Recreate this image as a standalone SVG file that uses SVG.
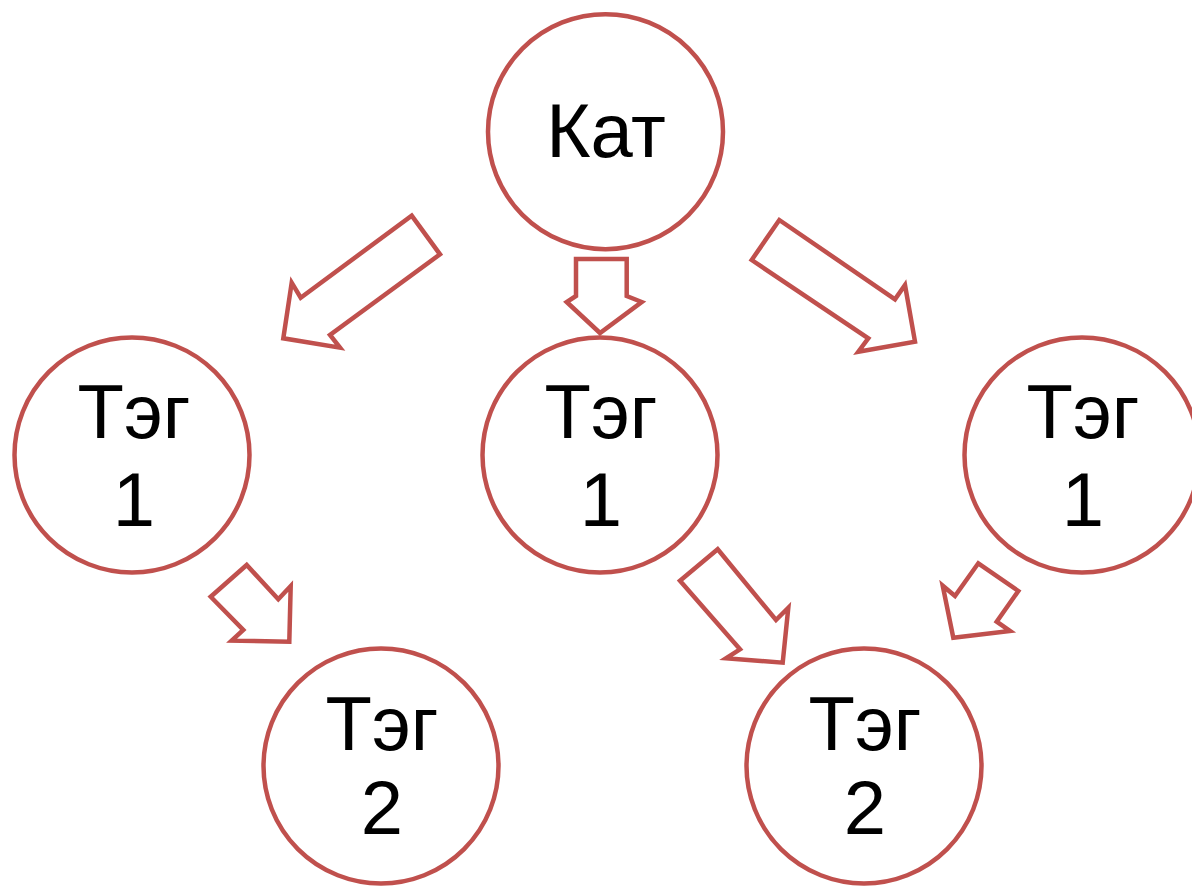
<svg xmlns="http://www.w3.org/2000/svg" width="1192" height="886" viewBox="0 0 1192 886">
<style>
.n{fill:#fff;stroke:#c0504d;stroke-width:4.5}
.a{fill:#fff;stroke:#c0504d;stroke-width:4.5;stroke-linejoin:miter}
.t{font-family:"Liberation Sans",Arial,sans-serif;font-size:76px;fill:#000;text-anchor:middle}
</style>
<rect width="1192" height="886" fill="#fff"/>
<g id="connectors">
<polygon class="a" points="411.7,215.7 440,254.3 330,335 340,347.7 283.3,338.3 291.7,282.7 300.7,297.7"/>
<polygon class="a" points="576,259 626.7,259 626.7,296 641.7,302 600,333 566.7,302 576,296"/>
<polygon class="a" points="751.7,260 779.3,220 895,299.3 905,285 915,341.7 858.3,351.7 868.3,338.3"/>
<polygon class="a" points="210.7,596.7 246.7,565 278.3,599.3 290.7,586 289.3,641.7 231.7,640.7 243.3,630"/>
<polygon class="a" points="680,580.7 717.7,549.3 776,620 788.3,607.7 782.7,662.7 726,658.3 740,649.3"/>
<polygon class="a" points="1018.3,591 978.3,563.3 955,596 942.7,585.7 953.3,637.7 1010,631 996.7,621.7"/>
</g>
<g id="kat">
<circle class="n" cx="605.5" cy="131.7" r="117.5"/>
<text class="t" x="606" y="157">Кат</text>
</g>
<g id="tag1-left">
<circle class="n" cx="132" cy="455" r="117.5"/>
<text class="t" x="134" y="438">Тэг</text>
<text class="t" x="134" y="526">1</text>
</g>
<g id="tag1-center">
<circle class="n" cx="600" cy="455" r="117.5"/>
<text class="t" x="601" y="438">Тэг</text>
<text class="t" x="601" y="526">1</text>
</g>
<g id="tag1-right">
<circle class="n" cx="1082" cy="455" r="117.5"/>
<text class="t" x="1083" y="438">Тэг</text>
<text class="t" x="1083" y="526">1</text>
</g>
<g id="tag2-left">
<circle class="n" cx="381" cy="766" r="117.5"/>
<text class="t" x="382" y="750">Тэг</text>
<text class="t" x="382" y="834">2</text>
</g>
<g id="tag2-right">
<circle class="n" cx="864" cy="766" r="117.5"/>
<text class="t" x="865" y="750">Тэг</text>
<text class="t" x="865" y="834">2</text>
</g>
</svg>
